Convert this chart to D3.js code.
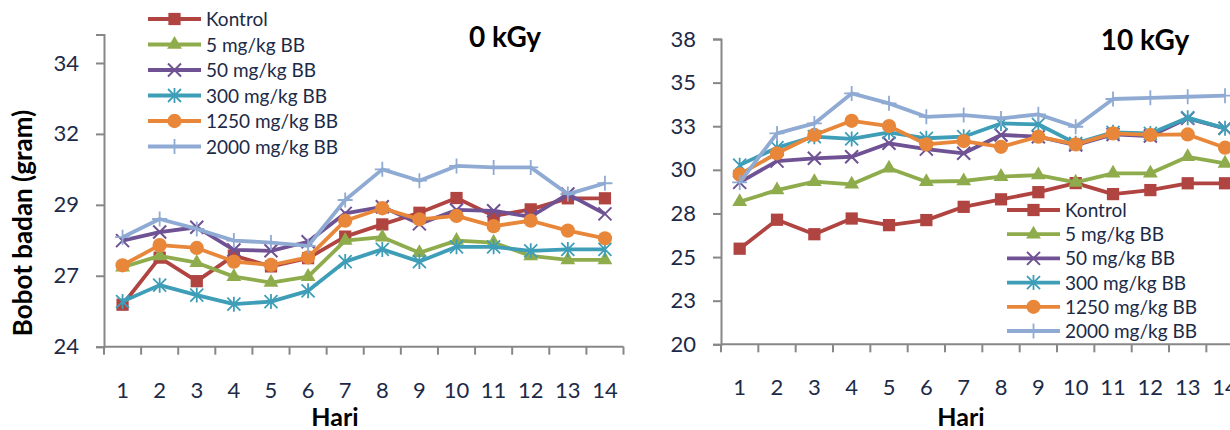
<!DOCTYPE html>
<html>
<head>
<meta charset="utf-8">
<script src="https://cdn.jsdelivr.net/npm/d3@7"></script>
<style>
  html, body { margin: 0; padding: 0; background: #fff; overflow: hidden; }
  svg { display: block; font-family: Lato, "Open Sans", sans-serif; }
</style>
</head>
<body>
<svg id="chart" width="1230" height="430"></svg>
<script>
// Days of observation
const days = [1, 2, 3, 4, 5, 6, 7, 8, 9, 10, 11, 12, 13, 14];

// Treatment groups
const seriesNames = ["Kontrol", "5 mg/kg BB", "50 mg/kg BB", "300 mg/kg BB", "1250 mg/kg BB", "2000 mg/kg BB"];

// Body weight (gram), 0 kGy
const kontrol0 = [25.48, 27.14, 26.31, 27.21, 26.83, 27.12, 27.88, 28.31, 28.72, 29.24, 28.61, 28.84, 29.23, 29.23];
const mg5_0    = [26.80, 27.20, 26.96, 26.47, 26.26, 26.47, 27.74, 27.86, 27.31, 27.74, 27.67, 27.20, 27.06, 27.06];
const mg50_0   = [27.74, 28.04, 28.21, 27.41, 27.38, 27.70, 28.70, 28.93, 28.33, 28.82, 28.79, 28.58, 29.38, 28.68];
const mg300_0  = [25.59, 26.17, 25.82, 25.50, 25.59, 25.97, 27.00, 27.43, 27.00, 27.52, 27.52, 27.38, 27.43, 27.43];
const mg1250_0 = [26.87, 27.58, 27.48, 27.00, 26.88, 27.15, 28.44, 28.88, 28.49, 28.61, 28.25, 28.44, 28.09, 27.82];
const mg2000_0 = [27.86, 28.50, 28.15, 27.74, 27.67, 27.55, 29.17, 30.25, 29.85, 30.37, 30.32, 30.32, 29.38, 29.76];

// Body weight (gram), 10 kGy
const kontrol10 = [25.48, 27.14, 26.31, 27.21, 26.83, 27.12, 27.88, 28.31, 28.72, 29.24, 28.61, 28.84, 29.23, 29.23];
const mg5_10    = [28.17, 28.84, 29.32, 29.17, 30.09, 29.32, 29.36, 29.61, 29.70, 29.28, 29.80, 29.80, 30.75, 30.37];
const mg50_10   = [29.28, 30.50, 30.66, 30.75, 31.52, 31.19, 30.95, 32.00, 31.90, 31.42, 32.03, 31.94, 32.95, 32.38];
const mg300_10  = [30.27, 31.27, 31.90, 31.77, 32.15, 31.81, 31.90, 32.66, 32.61, 31.52, 32.15, 32.09, 32.99, 32.38];
const mg1250_10 = [29.74, 30.95, 32.00, 32.81, 32.51, 31.46, 31.65, 31.32, 31.90, 31.46, 32.09, 32.00, 32.03, 31.27];
const mg2000_10 = [29.28, 32.09, 32.66, 34.38, 33.81, 33.04, 33.14, 32.95, 33.18, 32.47, 34.06, 34.13, 34.19, 34.25];

// Y axis ticks and their labels
const yTicks0 = [24, 26.5, 29, 31.5, 34];
const yTickLabels0 = ["24", "27", "29", "32", "34"];
const yTicks10 = [20, 22.5, 25, 27.5, 30, 32.5, 35, 37.5];
const yTickLabels10 = ["20", "23", "25", "28", "30", "33", "35", "38"];

const colors = ["#B04441", "#8FAC4C", "#6F5294", "#3E9EB8", "#E8873A", "#8FAAD3"];
const markers = ["square", "triangle", "cross", "star", "circle", "plus"];
const textColor = "#1C2A47";
const axisColor = "#878787";

const svg = d3.select("#chart");

// Marker glyphs
function drawMarker(g, type, color) {
  if (type === "square") {
    g.append("path").attr("d", d3.symbol(d3.symbolSquare, 150)()).attr("fill", color);
  } else if (type === "triangle") {
    g.append("path").attr("d", d3.symbol(d3.symbolTriangle, 95)()).attr("fill", color);
  } else if (type === "circle") {
    g.append("path").attr("d", d3.symbol(d3.symbolCircle, 160)()).attr("fill", color);
  } else if (type === "cross") {
    const s = 6.5;
    g.append("path").attr("d", `M${-s},${-s}L${s},${s}M${-s},${s}L${s},${-s}`)
      .attr("stroke", color).attr("stroke-width", 2).attr("fill", "none");
  } else if (type === "star") {
    const s = 6.5;
    g.append("path").attr("d", `M${-s},${-s}L${s},${s}M${-s},${s}L${s},${-s}M0,${-s - 1}L0,${s + 1}`)
      .attr("stroke", color).attr("stroke-width", 1.8).attr("fill", "none");
  } else if (type === "plus") {
    const s = 7.5;
    g.append("path").attr("d", `M0,${-s}L0,${s}M${-s},0L${s},0`)
      .attr("stroke", color).attr("stroke-width", 1.8).attr("fill", "none");
  }
}

function drawPanel(cfg) {
  const x = d3.scaleBand().domain(days).range([cfg.x0, cfg.x1]).padding(0);
  const y = d3.scaleLinear().domain([cfg.yMin, cfg.yMax]).range([cfg.yBottom, cfg.yTop]);
  const cx = d => x(d) + x.bandwidth() / 2;

  // Y axis
  const yAxis = d3.axisLeft(y)
    .tickValues(cfg.yTicks)
    .tickFormat((d, i) => cfg.yTickLabels[i])
    .tickSize(8).tickPadding(17);
  const ya = svg.append("g").attr("transform", `translate(${cfg.x0},0)`).call(yAxis);
  ya.select(".domain").attr("stroke", axisColor).attr("stroke-width", 2);
  ya.selectAll(".tick line").attr("stroke", axisColor).attr("stroke-width", 2);
  ya.selectAll(".tick text").attr("fill", textColor).attr("font-size", 22)
    .attr("font-family", "Lato, sans-serif");

  // X axis: labels centred in each category, tick marks on category boundaries
  const xa = svg.append("g").attr("transform", `translate(0,${cfg.yBottom})`);
  xa.append("line").attr("x1", cfg.x0).attr("x2", cfg.x1)
    .attr("stroke", axisColor).attr("stroke-width", 2);
  const bounds = days.map(d => x(d)).concat([x(days[days.length - 1]) + x.bandwidth()]);
  xa.selectAll("line.tk").data(bounds).join("line").attr("class", "tk")
    .attr("x1", d => d).attr("x2", d => d).attr("y1", 0).attr("y2", 8)
    .attr("stroke", axisColor).attr("stroke-width", 2);
  xa.selectAll("text.lbl").data(days).join("text").attr("class", "lbl")
    .attr("x", d => cx(d)).attr("y", 51)
    .attr("text-anchor", "middle").attr("fill", textColor).attr("font-size", 22)
    .text(d => d);

  // Series lines and markers
  cfg.series.forEach((vals, si) => {
    const pts = days.map((d, i) => [cx(d), y(vals[i])]);
    svg.append("path").attr("d", d3.line()(pts))
      .attr("fill", "none").attr("stroke", colors[si]).attr("stroke-width", 3.8)
      .attr("stroke-linejoin", "round");
    pts.forEach(p => {
      const g = svg.append("g").attr("transform", `translate(${p[0]},${p[1]})`);
      drawMarker(g, markers[si], colors[si]);
    });
  });

  // Legend
  seriesNames.forEach((name, i) => {
    const ly = cfg.legendY0 + i * cfg.legendStep;
    svg.append("line").attr("x1", cfg.legendX).attr("x2", cfg.legendX + 53)
      .attr("y1", ly).attr("y2", ly).attr("stroke", colors[i]).attr("stroke-width", 3.8);
    const g = svg.append("g").attr("transform", `translate(${cfg.legendX + 26.5},${ly})`);
    drawMarker(g, markers[i], colors[i]);
    svg.append("text").attr("x", cfg.legendX + 58).attr("y", ly + 7)
      .attr("fill", textColor).attr("font-size", 19).text(name);
  });

  // Panel title and x axis title
  svg.append("text").attr("x", cfg.titleX).attr("y", cfg.titleY)
    .attr("text-anchor", "middle").attr("font-weight", 700).attr("font-size", 28)
    .attr("fill", "#000").text(cfg.title);
  svg.append("text").attr("x", cfg.hariX).attr("y", 426)
    .attr("text-anchor", "middle").attr("font-weight", 700).attr("font-size", 25)
    .attr("fill", "#000").text("Hari");
}

drawPanel({
  title: "0 kGy", titleX: 505, titleY: 47,
  x0: 104, x1: 623.5,
  yMin: 24, yMax: 35, yBottom: 346.7, yTop: 34.6,
  yTicks: yTicks0, yTickLabels: yTickLabels0,
  series: [kontrol0, mg5_0, mg50_0, mg300_0, mg1250_0, mg2000_0],
  legendX: 148, legendY0: 19, legendStep: 25.5,
  hariX: 335
});

drawPanel({
  title: "10 kGy", titleX: 1145, titleY: 50,
  x0: 721, x1: 1243.7,
  yMin: 20, yMax: 37.5, yBottom: 344.3, yTop: 39,
  yTicks: yTicks10, yTickLabels: yTickLabels10,
  series: [kontrol10, mg5_10, mg50_10, mg300_10, mg1250_10, mg2000_10],
  legendX: 1007, legendY0: 210, legendStep: 24.2,
  hariX: 961
});

// Y axis title
svg.append("text")
  .attr("transform", "translate(32,223) rotate(-90)")
  .attr("text-anchor", "middle").attr("font-weight", 700).attr("font-size", 26)
  .attr("fill", "#000").text("Bobot badan (gram)");
</script>
</body>
</html>
